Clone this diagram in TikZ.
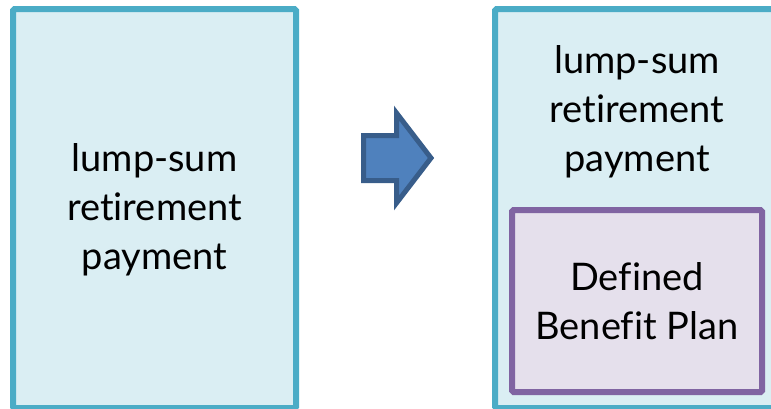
\documentclass[tikz,border=0pt]{standalone}
\usepackage{fontspec}
\setmainfont{Lato}[Ligatures=CommonOff]
\usetikzlibrary{positioning}

\definecolor{boxfill}{HTML}{DAEEF3}
\definecolor{boxline}{HTML}{4BACC6}
\definecolor{planfill}{HTML}{E5E0EC}
\definecolor{planline}{HTML}{8064A2}
\definecolor{arrowfill}{HTML}{4F81BD}
\definecolor{arrowline}{HTML}{385D8A}

\tikzset{
    paybox/.style={draw=boxline, fill=boxfill, line width=6pt, rounded corners=1.5pt, inner sep=0pt},
    planbox/.style={draw=planline, fill=planfill, line width=6pt, rounded corners=1.5pt, inner sep=0pt},
    bigtext/.style={align=center, font=\fontsize{38}{49}\selectfont, inner sep=0pt}
}

\begin{document}
\begin{tikzpicture}[x=1pt, y=-1pt]
        % Rahmen
        \useasboundingbox (0,0) rectangle (771,408);

        % linke Box
        \node[paybox, minimum width=283pt, minimum height=399pt] (lbox) at (154.5,208.5) {};
        \node[bigtext] (ltext) at (154.5,210) {lump-sum\\retirement\\payment};

        % Pfeil
        \draw[fill=arrowfill, draw=arrowline, line width=5pt, line join=miter]
            (363.5,135.5) -- (396.5,135.5) -- (396.5,113) -- (431,158)
            -- (396.5,203) -- (396.5,180.5) -- (363.5,180.5) -- cycle;

        % rechte Box
        \node[paybox, minimum width=284pt, minimum height=399pt] (rbox) at (637,208.5) {};
        \node[bigtext] (rtext) at (637,112) {lump-sum\\retirement\\payment};

        % innere Box
        \node[planbox, minimum width=250pt, minimum height=182pt, bigtext] (plan) at (637,301) {Defined\\Benefit Plan};

    \end{tikzpicture}
\end{document}
